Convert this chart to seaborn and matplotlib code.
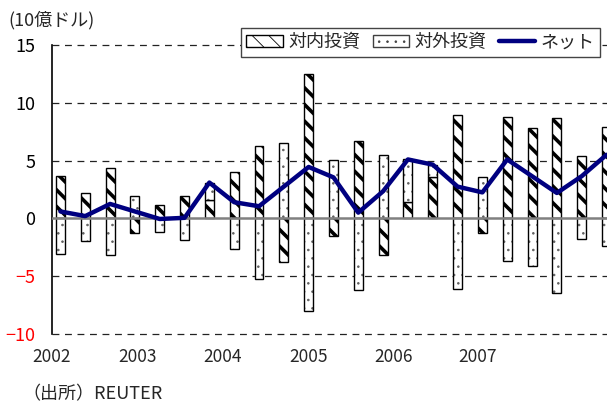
import matplotlib
matplotlib.use("Agg")
import matplotlib.pyplot as plt
import seaborn as sns
import numpy as np
import pandas as pd
from matplotlib.patches import Patch
from matplotlib.lines import Line2D

# Quarterly cross-border investment flows (10億ドル)
quarters = ["2002Q1", "2002Q2", "2002Q3", "2002Q4",
            "2003Q1", "2003Q2", "2003Q3", "2003Q4",
            "2004Q1", "2004Q2", "2004Q3", "2004Q4",
            "2005Q1", "2005Q2", "2005Q3", "2005Q4",
            "2006Q1", "2006Q2", "2006Q3", "2006Q4",
            "2007Q1", "2007Q2", "2007Q3"]
inward = [3.7, 2.2, 4.4, -1.3, 1.2, 1.9, 1.6, 4.05,
          6.25, -3.8, 12.5, -1.5, 6.7, -3.15, 1.45, 3.55,
          8.95, -1.3, 8.8, 7.8, 8.65, 5.4, 7.9]
outward = [-3.05, -1.95, -3.15, 1.9, -1.2, -1.85, 1.45, -2.65,
           -5.25, 6.5, -8.05, 5.05, -6.2, 5.5, 3.65, 1.1,
           -6.15, 3.55, -3.7, -4.15, -6.45, -1.75, -2.4]
net = [0.6, 0.2, 1.25, 0.6, -0.05, 0.05, 3.1, 1.4,
       1.05, 2.75, 4.45, 3.55, 0.5, 2.35, 5.1, 4.65,
       2.75, 2.25, 5.1, 3.65, 2.2, 3.65, 5.5]
year_labels = ["2002", "2003", "2004", "2005", "2006", "2007"]
year_label_pos = [-0.34, 3.1, 6.54, 9.98, 13.42, 16.82]
y_ticks = [-10, -5, 0, 5, 10, 15]
y_tick_labels = ["\u221210", "\u22125", "0", "5", "10", "15"]

series_names = ["対内投資", "対外投資", "ネット"]

df = pd.DataFrame({"quarter": quarters, "inward": inward,
                   "outward": outward, "net": net})
df["pos"] = np.arange(len(df))

sns.set_theme(style="white")
plt.rcParams["font.family"] = ["Noto Sans CJK JP", "DejaVu Sans"]
plt.rcParams["axes.unicode_minus"] = True

fig = plt.figure(figsize=(6.07, 4.08), dpi=100)
ax = fig.add_axes([52 / 607, 1 - 334 / 408, 1 - 52 / 607, (334 - 45) / 408])

bar_w = 0.36
x = df["pos"].to_numpy()
inv = df["inward"].to_numpy()
outv = df["outward"].to_numpy()
# outward flows stack on top of inward ones when both share a sign
out_bottom = np.where(np.sign(outv) == np.sign(inv), inv, 0.0)

# dashed reference lines and the solid zero line
for yv in [15, 10, 5, -5, -10]:
    ax.axhline(yv, color="#222222", lw=0.9, ls=(0, (5.5, 4.5)), zorder=1, clip_on=False)

plt.rcParams["hatch.linewidth"] = 2.6
ax.bar(x, inv, width=bar_w, facecolor="white", edgecolor="black",
       hatch="\\\\", lw=1.0, zorder=2)
plt.rcParams["hatch.linewidth"] = 0.6
ax.bar(x, outv, width=bar_w, bottom=out_bottom, facecolor="white",
       edgecolor="#606060", hatch="..", lw=0, zorder=2)
ax.bar(x, outv, width=bar_w, bottom=out_bottom, facecolor="none",
       edgecolor="black", lw=1.0, zorder=2.5)

ax.axhline(0, color="#808080", lw=1.8, zorder=3)

sns.lineplot(data=df, x="pos", y="net", color="#000080", lw=3.2,
             ax=ax, legend=False, zorder=4)

ax.set_xlim(-0.18, 22.02)
ax.set_ylim(-10, 15)
ax.set_xlabel("")
ax.set_ylabel("")

ax.set_xticks(year_label_pos)
ax.set_xticklabels(year_labels, fontsize=12.5)
ax.tick_params(axis="x", length=0, pad=10)

ax.set_yticks(y_ticks)
ax.set_yticklabels(y_tick_labels, fontsize=13)
ax.tick_params(axis="y", length=0, pad=12)
for lab, val in zip(ax.get_yticklabels(), y_ticks):
    lab.set_color("red" if val < 0 else "black")

for side in ["top", "right", "bottom"]:
    ax.spines[side].set_visible(False)
ax.spines["left"].set_color("black")
ax.spines["left"].set_linewidth(1.2)
ax.grid(False)

plt.rcParams["hatch.linewidth"] = 2.6
h_in = Patch(facecolor="white", edgecolor="black", hatch="\\\\", lw=1.0)
plt.rcParams["hatch.linewidth"] = 0.6
h_out = Patch(facecolor="white", edgecolor="#404040", hatch="..", lw=1.0)
h_net = Line2D([0], [0], color="#000080", lw=3.2)
leg = fig.legend([h_in, h_out, h_net], series_names, loc="upper left",
                 bbox_to_anchor=(241 / 607, 1 - 28 / 408), ncol=3,
                 frameon=True, fancybox=False, framealpha=1,
                 edgecolor="#444444", handlelength=2.0,
                 handleheight=0.67, columnspacing=0.7, handletextpad=0.3,
                 borderpad=0.3, borderaxespad=0,
                 prop={"family": ["Noto Sans CJK JP", "DejaVu Sans"], "size": 13})
leg.get_frame().set_linewidth(1.0)

fig.text(8 / 607, 1 - 20 / 408, "(10億ドル)", fontsize=13, va="center", ha="left")
fig.text(22 / 607, 1 - 394 / 408, "（出所）REUTER", fontsize=13, va="center", ha="left")

fig.savefig("out.png", dpi=100)
